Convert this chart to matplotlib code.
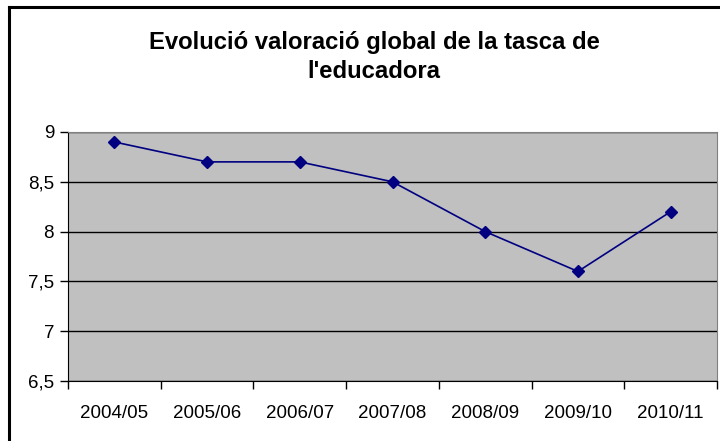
import matplotlib.pyplot as plt
import numpy as np

# Data
courses = ['2004/05', '2005/06', '2006/07', '2007/08', '2008/09', '2009/10', '2010/11']
scores = [8.9, 8.7, 8.7, 8.5, 8.0, 7.6, 8.2]
y_ticks = [6.5, 7, 7.5, 8, 8.5, 9]

W, H = 720, 441
fig = plt.figure(figsize=(7.2, 4.41), dpi=100)
plt.rcParams['font.family'] = ['Liberation Sans', 'DejaVu Sans']

# outer chart frame (only left and top are visible in the crop)
fig.add_artist(plt.Line2D([9 / W, 9 / W], [0, 1 - 7 / H], color='black', lw=2.2))
fig.add_artist(plt.Line2D([9 / W, 1], [1 - 7 / H, 1 - 7 / H], color='black', lw=2.2))

left, right, top, bottom = 68, 717, 132, 381
ax = fig.add_axes([left / W, 1 - bottom / H, (right - left) / W, (bottom - top) / H])
ax.set_facecolor('#C0C0C0')

x = np.arange(len(courses))
ax.plot(x, scores, color='#000080', lw=1.2, marker='D', ms=6, zorder=3)

ax.set_xlim(-0.5, len(courses) - 0.5)
ax.set_ylim(6.5, 9)
ax.set_yticks(y_ticks)
ax.set_yticklabels([str(v).replace('.', ',') if v % 1 else str(int(v)) for v in y_ticks])
ax.yaxis.grid(True, color='black', lw=1)
ax.set_axisbelow(True)

ax.set_xticks(np.arange(len(courses) + 1) - 0.5)
ax.set_xticklabels([])
ax.set_xticks(x, minor=True)
ax.set_xticklabels(courses, minor=True)
ax.tick_params(axis='x', which='major', length=6, width=1, direction='out')
ax.tick_params(axis='x', which='minor', length=0, pad=17, labelsize=13.5)
ax.tick_params(axis='y', length=6, width=1, labelsize=13.5, pad=4)

for s in ['top', 'right']:
    ax.spines[s].set_color('#808080')
for s in ['left', 'bottom']:
    ax.spines[s].set_color('black')

fig.text(374 / W, 1 - 57 / H, "Evolució valoració global de la tasca de\nl'educadora",
         ha='center', va='center', fontsize=17.2, fontweight='bold', linespacing=1.3)

fig.savefig('out.png', dpi=100)
